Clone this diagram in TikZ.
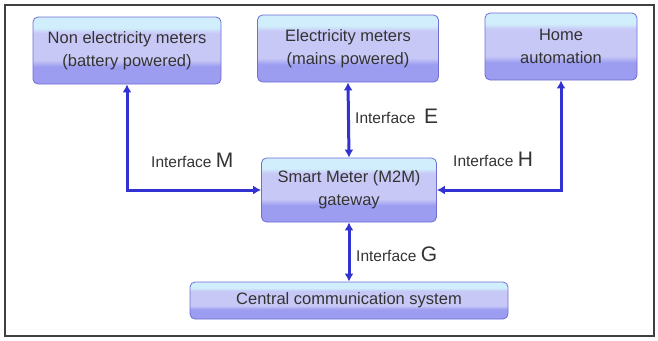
\documentclass[tikz,border=0pt]{standalone}
\usepackage{fontspec}
\setmainfont{Liberation Sans}
\usetikzlibrary{arrows.meta}

\definecolor{boxtop}{HTML}{D0EEFB}
\definecolor{boxmid}{HTML}{C8C8F7}
\definecolor{boxbot}{HTML}{9C9CF0}
\definecolor{boxedge}{HTML}{6E6ED6}
\definecolor{linkblue}{HTML}{3232D2}

% box shading: light top band, lavender middle, violet bottom band
\pgfdeclareverticalshading{meterbox}{100bp}{color(0bp)=(boxbot); color(25bp)=(boxbot);
  color(38bp)=(boxbot); color(43bp)=(boxmid); color(63bp)=(boxmid);
  color(67bp)=(boxtop); color(100bp)=(boxtop)}

\begin{document}
\begin{tikzpicture}[x=1pt,y=-1pt,
    unitbox/.style={draw=boxedge, line width=0.8pt, shading=meterbox,
      rounded corners=5pt, inner sep=0pt, align=center, text=black!80,
      font=\fontsize{16.5}{23}\selectfont},
    link/.style={linkblue, line width=3pt, {Latex[length=8pt,width=9pt]}-{Latex[length=8pt,width=9pt]}},
    iflabel/.style={anchor=base west, inner sep=0pt, text=black!80, font=\fontsize{15.5}{18}\selectfont}]
  \useasboundingbox (0,0) rectangle (658,340);
  % outer frame
  \draw[line width=2pt, black!75] (5,5) rectangle (654,336);
  % the five units
  \node[unitbox, minimum width=188pt, minimum height=67pt] (nonelec) at (127,50.5)
    {Non electricity meters\\(battery powered)};
  \node[unitbox, minimum width=181pt, minimum height=67pt] (elec) at (348,48.5)
    {Electricity meters\\(mains powered)};
  \node[unitbox, minimum width=152pt, minimum height=67pt] (home) at (561,46.5)
    {Home\\automation};
  \node[unitbox, minimum width=175pt, minimum height=64pt] (gateway) at (349,190)
    {Smart Meter (M2M)\\gateway};
  \node[unitbox, minimum width=318pt, minimum height=37pt] (central) at (349,300.5)
    {Central communication system};
  % interfaces
  \draw[link] (nonelec.south) |- (gateway.west);
  \draw[link] (elec.south) -- (gateway.north);
  \draw[link] (home.south) |- (gateway.east);
  \draw[link] (gateway.south) -- (central.north);
  % interface names
  \node[iflabel] (ifm) at (151,167) {Interface {\fontsize{21}{21}\selectfont M}};
  \node[iflabel] (ife) at (355,123) {Interface \ {\fontsize{21}{21}\selectfont E}};
  \node[iflabel] (ifh) at (453,166) {Interface {\fontsize{21}{21}\selectfont H}};
  \node[iflabel] (ifg) at (356,261) {Interface {\fontsize{21}{21}\selectfont G}};
\end{tikzpicture}
\end{document}
